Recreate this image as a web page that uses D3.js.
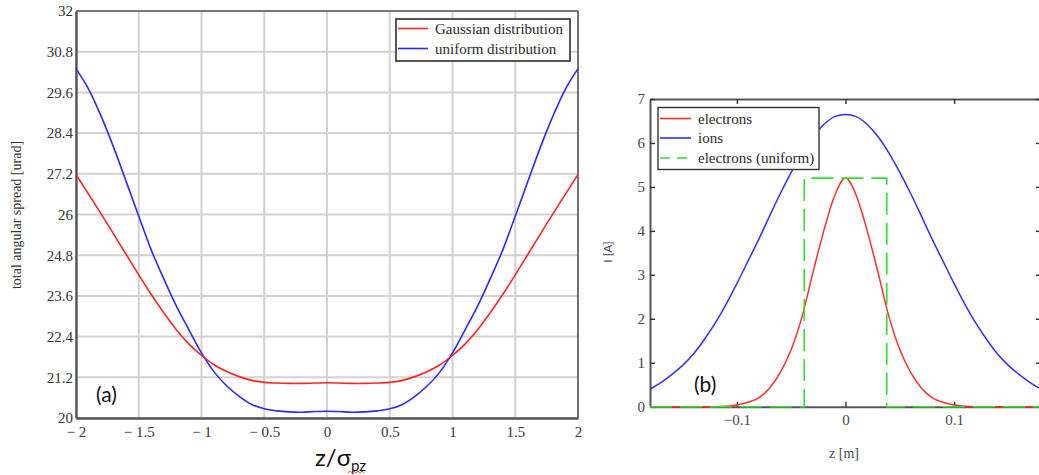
<!DOCTYPE html>
<html>
<head>
<meta charset="utf-8">
<script src="https://cdn.jsdelivr.net/npm/d3@7"></script>
<style>
  body { margin: 0; background: #fff; }
  svg { display: block; }
</style>
</head>
<body>
<svg id="fig" width="1039" height="475"></svg>
<script>
// ---------- (a) total angular spread versus z/σ_pz ----------
const zNorm = [-2, -1.9, -1.8, -1.7, -1.6, -1.5, -1.4, -1.3, -1.2, -1.1, -1, -0.9, -0.8, -0.7, -0.6, -0.5, -0.4, -0.3, -0.2, -0.1,
               0, 0.1, 0.2, 0.3, 0.4, 0.5, 0.6, 0.7, 0.8, 0.9, 1, 1.1, 1.2, 1.3, 1.4, 1.5, 1.6, 1.7, 1.8, 1.9, 2];
const spreadGaussian = [27.18, 26.6, 26.02, 25.42, 24.82, 24.22, 23.64, 23.1, 22.6, 22.18, 21.85, 21.57, 21.37, 21.22, 21.11, 21.05, 21.03, 21.02, 21.02, 21.03,
                        21.04, 21.03, 21.02, 21.02, 21.03, 21.05, 21.11, 21.22, 21.37, 21.57, 21.85, 22.18, 22.6, 23.1, 23.64, 24.22, 24.82, 25.42, 26.02, 26.6, 27.18];
const spreadUniform = [30.3, 29.7, 28.9, 27.98, 26.97, 25.95, 24.95, 24.1, 23.3, 22.6, 21.92, 21.36, 20.95, 20.64, 20.4, 20.27, 20.21, 20.18, 20.17, 20.19,
                       20.2, 20.19, 20.17, 20.18, 20.21, 20.27, 20.4, 20.64, 20.95, 21.36, 21.92, 22.6, 23.3, 24.1, 24.95, 25.95, 26.97, 27.98, 28.9, 29.7, 30.3];
const xTicksA = [-2, -1.5, -1, -0.5, 0, 0.5, 1, 1.5, 2];
const yTicksA = [20, 21.2, 22.4, 23.6, 24.8, 26, 27.2, 28.4, 29.6, 30.8, 32];
const legendA = ["Gaussian distribution", "uniform distribution"];

// ---------- (b) current profiles ----------
const zMeters = [-0.18, -0.17, -0.16, -0.15, -0.14, -0.13, -0.12, -0.11, -0.1, -0.09, -0.08, -0.07, -0.06, -0.05, -0.04, -0.03, -0.02, -0.01,
                 0, 0.01, 0.02, 0.03, 0.04, 0.05, 0.06, 0.07, 0.08, 0.09, 0.1, 0.11, 0.12, 0.13, 0.14, 0.15, 0.16, 0.17, 0.18];
const currentElectrons = [0, 0, 0, 0, 0, 0, 0, 0.01, 0.04, 0.1, 0.2, 0.42, 0.78, 1.3, 2.05, 3.05, 4.0, 4.8,
                          5.2, 4.8, 4.0, 3.05, 2.05, 1.3, 0.78, 0.42, 0.2, 0.1, 0.04, 0.01, 0, 0, 0, 0, 0, 0, 0];
const currentIons = [0.4, 0.55, 0.73, 0.94, 1.2, 1.53, 1.9, 2.33, 2.8, 3.3, 3.8, 4.33, 4.85, 5.33, 5.77, 6.14, 6.42, 6.6,
                     6.65, 6.6, 6.42, 6.14, 5.77, 5.33, 4.85, 4.33, 3.8, 3.3, 2.8, 2.33, 1.9, 1.53, 1.2, 0.94, 0.73, 0.55, 0.4];
const uniformZ = [-0.18, -0.038, -0.038, 0.038, 0.038, 0.18];
const uniformI = [0, 0, 5.2, 5.2, 0, 0];
const xTicksB = [-0.1, 0, 0.1];
const yTicksB = [0, 1, 2, 3, 4, 5, 6, 7];
const legendB = ["electrons", "ions", "electrons (uniform)"];

const svg = d3.select("#fig");
const serif = "'Liberation Serif', 'Times New Roman', serif";
const sans = "Lato, 'Open Sans', sans-serif";
const labelColor = "#333";
const minus = v => (v < 0 ? "\u2212 " + Math.abs(v) : String(v));

// ===== panel (a) =====
const xA = d3.scaleLinear().domain([-2, 2]).range([76, 578]);
const yA = d3.scaleLinear().domain([20, 32]).range([418, 11]);
const gA = svg.append("g");

// grid
gA.append("g").selectAll("line").data(xTicksA).join("line")
  .attr("x1", d => xA(d)).attr("x2", d => xA(d))
  .attr("y1", yA(32)).attr("y2", yA(20))
  .attr("stroke", "#d2d2d2").attr("stroke-width", 2);
gA.append("g").selectAll("line").data(yTicksA).join("line")
  .attr("x1", xA(-2)).attr("x2", xA(2))
  .attr("y1", d => yA(d)).attr("y2", d => yA(d))
  .attr("stroke", "#d2d2d2").attr("stroke-width", 2);

// frame: top and right
gA.append("line").attr("x1", xA(-2)).attr("x2", xA(2)).attr("y1", yA(32)).attr("y2", yA(32))
  .attr("stroke", "#5a5a5a").attr("stroke-width", 1.6);
gA.append("line").attr("x1", xA(2)).attr("x2", xA(2)).attr("y1", yA(32)).attr("y2", yA(20))
  .attr("stroke", "#5a5a5a").attr("stroke-width", 1.6);

// axes
const axA_x = d3.axisBottom(xA).tickValues(xTicksA).tickSize(0).tickPadding(8).tickFormat(minus);
const axA_y = d3.axisLeft(yA).tickValues(yTicksA).tickSize(0).tickPadding(3).tickFormat(d => String(d));
function styleAxis(g, stroke, width) {
  g.select(".domain").attr("stroke", stroke).attr("stroke-width", width);
  g.selectAll("text").attr("font-family", serif).attr("font-size", 15).attr("fill", labelColor);
}
gA.append("g").attr("transform", `translate(0,${yA(20)})`).call(axA_x).call(g => styleAxis(g, "#555", 2.4));
gA.append("g").attr("transform", `translate(${xA(-2)},0)`).call(axA_y).call(g => styleAxis(g, "#555", 2.4));

// curves
const lineA = d3.line().x((d, i) => xA(zNorm[i])).y(d => yA(d)).curve(d3.curveCatmullRom.alpha(0.5));
gA.append("path").datum(spreadUniform).attr("d", lineA)
  .attr("fill", "none").attr("stroke", "#2a2aff").attr("stroke-width", 1.6);
gA.append("path").datum(spreadGaussian).attr("d", lineA)
  .attr("fill", "none").attr("stroke", "#ff2424").attr("stroke-width", 1.6);

// legend
const legA = gA.append("g");
legA.append("rect").attr("x", 396).attr("y", 19).attr("width", 174).attr("height", 42)
  .attr("fill", "#fff").attr("stroke", "#444").attr("stroke-width", 1.8);
const legAColors = ["#ff2424", "#2a2aff"];
legendA.forEach((name, i) => {
  const cy = 28.5 + i * 20;
  legA.append("line").attr("x1", 398).attr("x2", 428).attr("y1", cy).attr("y2", cy)
    .attr("stroke", legAColors[i]).attr("stroke-width", 1.6);
  legA.append("text").attr("x", 435).attr("y", cy + 5).text(name)
    .attr("font-family", serif).attr("font-size", 15).attr("fill", "#2a2a2a");
});

// axis titles
gA.append("text").attr("transform", `translate(21,215) rotate(-90)`)
  .attr("text-anchor", "middle").text("total angular spread [urad]")
  .attr("font-family", serif).attr("font-size", 14).attr("fill", labelColor);

const titleA = gA.append("text").attr("x", 315).attr("y", 466)
  .attr("font-family", sans).attr("font-size", 24).attr("fill", "#111");
titleA.append("tspan").text("z/σ");
titleA.append("tspan").attr("font-size", 15).attr("dy", 5).text("pz");
// spell-check squiggle under the subscript
const squiggle = d3.range(0, 9).map(k => [348 + k * 2, k % 2 ? 471 : 473]);
gA.append("path").attr("d", d3.line()(squiggle))
  .attr("fill", "none").attr("stroke", "#e04040").attr("stroke-width", 0.9);

gA.append("text").attr("x", 96).attr("y", 402).text("(a)")
  .attr("font-family", sans).attr("font-size", 21).attr("fill", "#111");

// ===== panel (b) =====
const xB = d3.scaleLinear().domain([-0.18, 0.18]).range([650, 1041]);
const yB = d3.scaleLinear().domain([0, 7]).range([406.7, 99]);
const gB = svg.append("g");

function styleAxisB(g) {
  g.select(".domain").attr("stroke", "#555").attr("stroke-width", 2);
  g.selectAll(".tick line").attr("stroke", "#333").attr("stroke-width", 1.4);
  g.selectAll("text").attr("font-family", serif).attr("font-size", 15).attr("fill", "#3f4650");
}
gB.append("g").attr("transform", `translate(0,${yB(7)})`)
  .call(d3.axisTop(xB).tickValues(xTicksB).tickSizeInner(-5).tickSizeOuter(0).tickFormat(""))
  .call(styleAxisB);
gB.append("g").attr("transform", `translate(${xB(0.18)},0)`)
  .call(d3.axisRight(yB).tickValues(yTicksB).tickSizeInner(-5).tickSizeOuter(0).tickFormat(""))
  .call(styleAxisB);
gB.append("g").attr("transform", `translate(${xB(-0.18)},0)`)
  .call(d3.axisLeft(yB).tickValues(yTicksB).tickSizeInner(-5).tickSizeOuter(0).tickPadding(5).tickFormat(d => String(d)))
  .call(styleAxisB);
gB.append("g").attr("transform", `translate(0,${yB(0)})`)
  .call(d3.axisBottom(xB).tickValues(xTicksB).tickSizeInner(-5).tickSizeOuter(0).tickPadding(8)
    .tickFormat(d => (d < 0 ? "\u2212" + Math.abs(d) : String(d))))
  .call(styleAxisB);

const lineB = d3.line().x((d, i) => xB(zMeters[i])).y(d => yB(d)).curve(d3.curveMonotoneX);
gB.append("path").datum(currentIons).attr("d", lineB)
  .attr("fill", "none").attr("stroke", "#3030ff").attr("stroke-width", 1.5);
gB.append("path").datum(currentElectrons).attr("d", lineB)
  .attr("fill", "none").attr("stroke", "#ff2e2e").attr("stroke-width", 1.5);
const lineU = d3.line().x((d, i) => xB(uniformZ[i])).y(d => yB(d));
gB.append("path").datum(uniformI).attr("d", lineU)
  .attr("fill", "none").attr("stroke", "#2fe02f").attr("stroke-width", 1.6)
  .attr("stroke-dasharray", "22,8");

// legend
const legB = gB.append("g");
legB.append("rect").attr("x", 658).attr("y", 107.5).attr("width", 161).attr("height", 62)
  .attr("fill", "#fff").attr("stroke", "#333").attr("stroke-width", 1.4);
const legBColors = ["#ff2e2e", "#3030ff", "#2fe02f"];
const legBDash = [null, null, "10,7"];
const legBRows = [118.5, 138, 158];
legendB.forEach((name, i) => {
  const cy = legBRows[i];
  legB.append("line").attr("x1", 660).attr("x2", 691).attr("y1", cy).attr("y2", cy)
    .attr("stroke", legBColors[i]).attr("stroke-width", 1.6)
    .attr("stroke-dasharray", legBDash[i]);
  legB.append("text").attr("x", 698).attr("y", cy + 5).text(name)
    .attr("font-family", serif).attr("font-size", 15).attr("fill", "#2a2a2a");
});

gB.append("text").attr("transform", `translate(612,252) rotate(-90)`)
  .attr("text-anchor", "middle").text("I [A]")
  .attr("font-family", sans).attr("font-size", 12).attr("fill", "#3f4650");
gB.append("text").attr("x", 844).attr("y", 458).attr("text-anchor", "middle").text("z [m]")
  .attr("font-family", serif).attr("font-size", 14).attr("fill", "#3f4650");
gB.append("text").attr("x", 694).attr("y", 392).text("(b)")
  .attr("font-family", sans).attr("font-size", 21).attr("fill", "#111");
</script>
</body>
</html>
